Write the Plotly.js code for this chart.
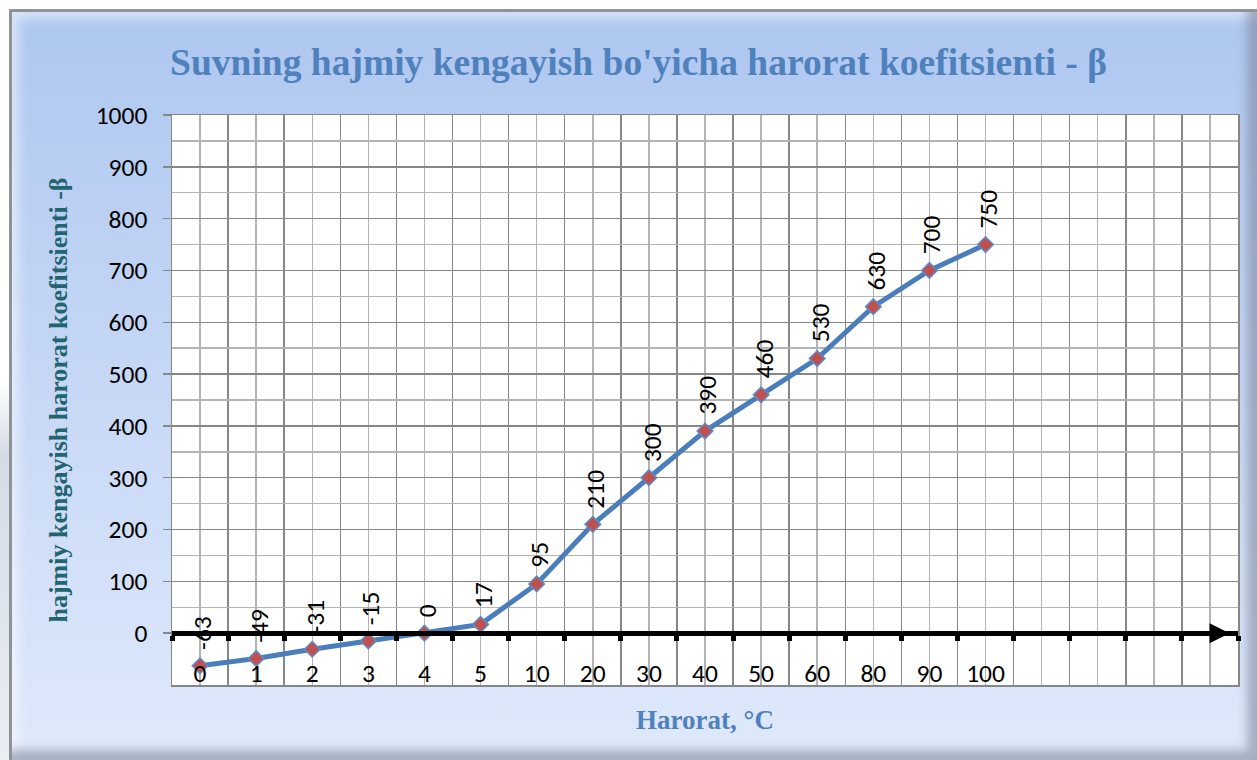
<!DOCTYPE html>
<html>
<head>
<meta charset="utf-8">
<script src="https://cdn.plot.ly/plotly-3.0.1.min.js"></script>
<style>
  html, body { margin: 0; padding: 0; background: #ffffff; }
  #wrap { position: relative; width: 1257px; height: 760px; overflow: hidden;
          background: linear-gradient(to bottom, #ffffff 0%, #ffffff 50%, #d4dbe4 60%, #e9eef3 100%); }
  #frame { position: absolute; left: 9px; top: 9px; width: 1248px; height: 751px; box-sizing: border-box;
           border-left: 3px solid #8f9296; border-top: 3px solid #8f9296;
           background: linear-gradient(to bottom, #aec7f0 0%, #c4d6f5 45%, #dfe9fb 100%);
           box-shadow: inset -16px -16px 10px -6px rgba(120,130,150,0.55), inset 12px 12px 12px -6px rgba(255,255,255,0.55); }
  #chart { position: absolute; left: 0; top: 0; width: 1257px; height: 760px; }
</style>
</head>
<body>
<div id="wrap">
  <div id="frame"></div>
  <div id="chart"></div>
</div>
<script>
// ---- data ----
const categories = ['0', '1', '2', '3', '4', '5', '10', '20', '30', '40', '50', '60', '80', '90', '100'];
const beta = [-63, -49, -31, -15, 0, 17, 95, 210, 300, 390, 460, 530, 630, 700, 750];
const dataLabels = beta.map(v => String(v));
const titleText = "Suvning hajmiy kengayish bo'yicha harorat koefitsienti - β";
const xTitle = 'Harorat, °C';
const yTitle = 'hajmiy kengayish harorat koefitsienti -β';

// ---- layout helpers ----
const emptySlots = 4;
const nSlots = categories.length + emptySlots;
const slotIdx = Array.from({length: nSlots}, (_, i) => i);
const tickText = slotIdx.map(i => i < categories.length ? categories[i] : '');
const xIdx = categories.map((_, i) => i);
const xRange = [-0.5, nSlots - 0.5];
const yRange = [-100, 1000];
const zeroPos = (0 - yRange[0]) / (yRange[1] - yRange[0]);

const tickFont = {family: 'Carlito, Calibri, Lato, "DejaVu Sans", sans-serif', size: 25.5, color: '#000000'};
const serif = '"Liberation Serif", "Times New Roman", serif';
const majorGrid = '#878787';
const minorGrid = '#b4b4b4';

const traces = [
  {
    x: xIdx, y: beta, type: 'scatter', mode: 'lines+markers',
    line: {color: '#4a7ebb', width: 5},
    marker: {symbol: 'diamond', size: 12, color: '#c0504d', line: {color: '#5b8ccc', width: 1.5}},
    hoverinfo: 'x+y', showlegend: false, cliponaxis: false
  },
  { x: [], y: [], xaxis: 'x2', type: 'scatter', mode: 'markers', showlegend: false, hoverinfo: 'skip' }
];

const annotations = xIdx.map((xi, i) => ({
  x: xi, y: beta[i], xref: 'x', yref: 'y', text: dataLabels[i], showarrow: false,
  textangle: -90, xanchor: 'center', yanchor: 'bottom', yshift: 14, xshift: 3,
  font: tickFont
}));
annotations.push({
  x: xRange[1] - 0.15, y: 0, xref: 'x', yref: 'y', ax: -28, ay: 0, axref: 'pixel', ayref: 'pixel',
  showarrow: true, arrowhead: 2, arrowsize: 1, arrowwidth: 4, arrowcolor: '#000000', text: ''
});

const layout = {
  width: 1257, height: 760,
  margin: {l: 172, r: 19, t: 115, b: 75},
  paper_bgcolor: 'rgba(0,0,0,0)',
  plot_bgcolor: '#ffffff',
  title: {
    text: '<b>' + titleText + '</b>',
    font: {family: serif, size: 37.5, color: '#4f81bd'},
    x: 0.508, xref: 'container', xanchor: 'center',
    y: 1 - 62 / 760, yref: 'container', yanchor: 'middle'
  },
  xaxis: {
    range: xRange, tickmode: 'array', tickvals: slotIdx, ticktext: tickText,
    ticks: '', ticklabelposition: 'inside', tickfont: tickFont,
    showgrid: true, gridcolor: minorGrid, gridwidth: 1.5,
    minor: {tick0: -0.5, dtick: 1, showgrid: true, gridcolor: majorGrid, gridwidth: 1.5, ticks: ''},
    showline: true, linecolor: majorGrid, linewidth: 1.5, mirror: true,
    zeroline: false, fixedrange: true,
    title: {text: '<b>' + xTitle + '</b>', font: {family: serif, size: 27, color: '#4f81bd'}, standoff: 22}
  },
  xaxis2: {
    range: xRange, overlaying: 'x', anchor: 'free', position: zeroPos,
    showline: true, linecolor: '#000000', linewidth: 5,
    tickmode: 'linear', tick0: -0.5, dtick: 1, ticks: 'outside', ticklen: 5, tickwidth: 5, tickcolor: '#000000',
    showticklabels: false, showgrid: false, zeroline: false, fixedrange: true
  },
  yaxis: {
    range: yRange, tickmode: 'linear', tick0: 0, dtick: 100,
    ticks: 'outside', ticklen: 8, tickcolor: majorGrid, tickwidth: 1.5, ticklabelstandoff: 10,
    tickfont: tickFont,
    showgrid: true, gridcolor: majorGrid, gridwidth: 1.5,
    minor: {dtick: 50, showgrid: true, gridcolor: minorGrid, gridwidth: 1.5, ticks: ''},
    showline: true, linecolor: majorGrid, linewidth: 1.5, mirror: true,
    zeroline: false, fixedrange: true,
    title: {text: '<b>' + yTitle + '</b>', font: {family: serif, size: 26, color: '#226470'}, standoff: 20}
  },
  annotations: annotations
};

Plotly.newPlot('chart', traces, layout, {displayModeBar: false, staticPlot: true});
</script>
</body>
</html>
